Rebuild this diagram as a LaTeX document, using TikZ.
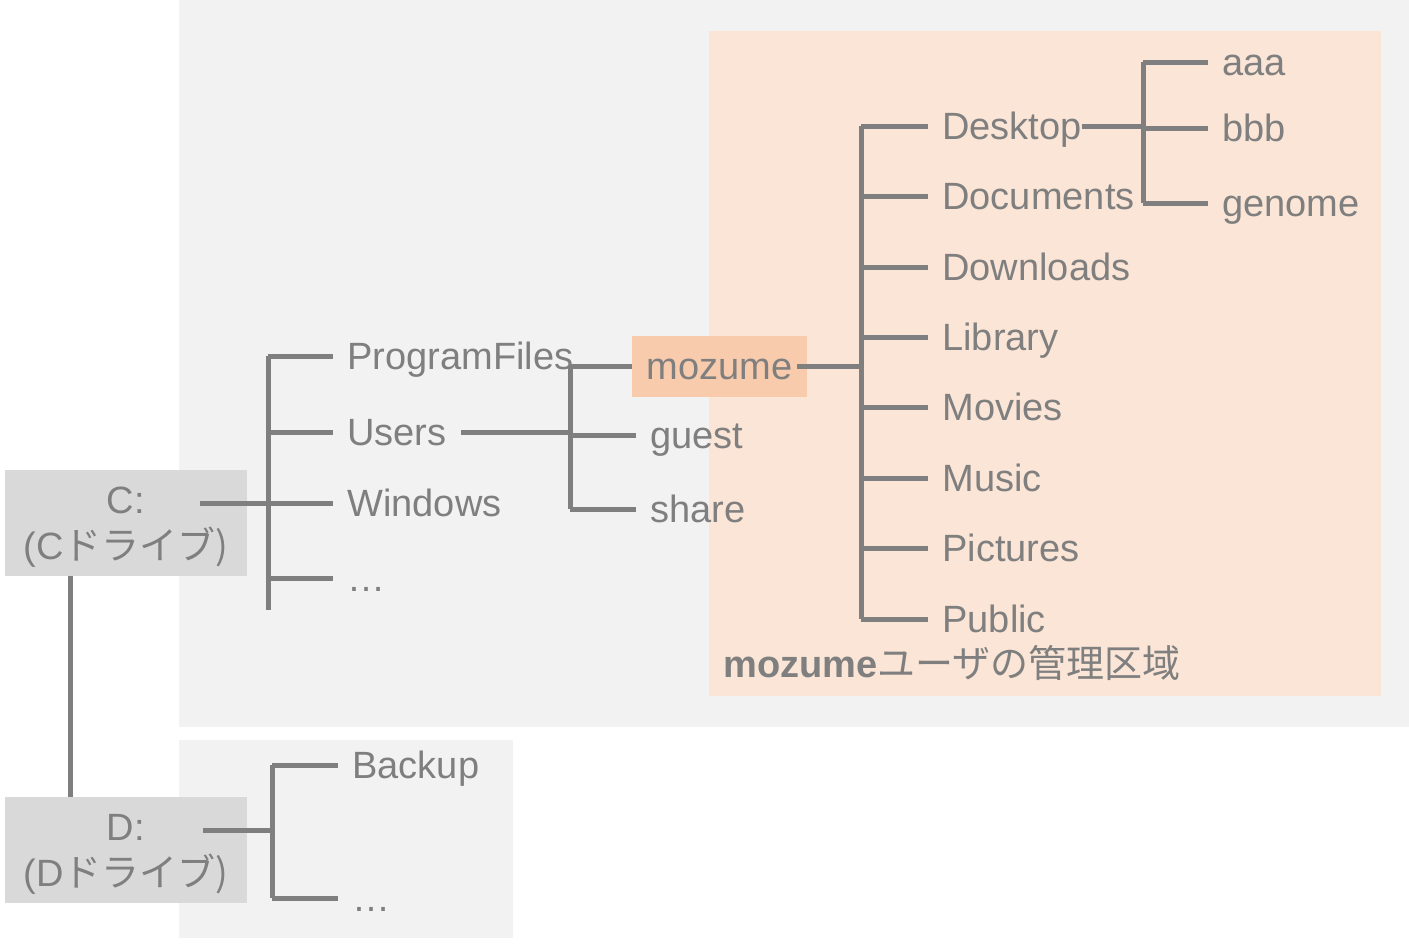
\documentclass[tikz,border=0pt]{standalone}
\usepackage{fontspec}
\setmainfont{Liberation Sans}
\newfontfamily\jp{Noto Sans CJK JP}
\definecolor{bgarea}{HTML}{F2F2F2}
\definecolor{userarea}{HTML}{FBE5D6}
\definecolor{mzfill}{HTML}{F8CBAD}
\definecolor{drivefill}{HTML}{D9D9D9}
\definecolor{tgray}{HTML}{7F7F7F}

\begin{document}
\begin{tikzpicture}[x=0.5pt,y=-0.5pt,
	tree/.style={draw=tgray, line width=2.5pt},
	lbl/.style={anchor=west, inner xsep=7pt, inner ysep=0pt, text=tgray,
		font=\fontsize{19}{22}\selectfont, text height=13.6pt, text depth=0pt},
	drive/.style={fill=drivefill, text=tgray, minimum width=121pt, minimum height=53pt,
		align=center, font=\fontsize{19}{23}\selectfont, inner sep=0pt}]
			%%% Bounding box and areas
			\useasboundingbox (0,0) rectangle (1409,944);
			\fill[bgarea] (179,0) rectangle (1409,727);
			\fill[bgarea] (179,740) rectangle (513,938);
			\fill[userarea] (709,31) rectangle (1381,696);
			%%% Drives
			\node[drive] (cdrv) at (126,523) {\rule{0pt}{17.6pt}C:\\(C\jp{ドライブ})};
			\node[drive] (ddrv) at (126,850) {\rule{0pt}{17.6pt}D:\\(D\jp{ドライブ})};
			\draw[tree] ([xshift=-28pt]cdrv.south) -- ([xshift=-28pt]ddrv.north);
			\coordinate (cout) at (200,503);
			\coordinate (dout) at (203,830);
			%%% C: tree
			\node[lbl] (pf) at (333,356) {ProgramFiles};
			\node[lbl] (users) at (333,432) {Users};
			\node[lbl] (win) at (333,503) {Windows};
			\node[lbl] (cdots) at (333,578) {\ldots};
			\coordinate (ctop) at (268,356);
			\coordinate (cbot) at (268,610);
			\draw[tree] (ctop) -- (cbot);
			\draw[tree] (cout) -- (cout -| ctop);
			\foreach \n in {pf,users,win,cdots}
			\draw[tree] (\n.west -| ctop) -- (\n.west);
			%%% Users
			\node[fill=mzfill, text=tgray, minimum width=87.5pt, minimum height=30.5pt,
				inner sep=0pt, text height=13pt, text depth=0pt,
				font=\fontsize{19}{22}\selectfont] (mz) at (719.5,366.5) {mozume};
			\node[lbl] (guest) at (636,435) {guest};
			\node[lbl] (share) at (636,509) {share};
			\coordinate (utop) at (570,366.5);
			\coordinate (ubot) at (570,509);
			\draw[tree] (utop) -- (ubot);
			\draw[tree] (users.east) -- (users.east -| utop);
			\foreach \n in {mz,guest,share}
			\draw[tree] (\n.west -| utop) -- (\n.west);
			%%% mozume
			\node[lbl] (desk) at (928,126) {Desktop};
			\node[lbl] (docs) at (928,196) {Documents};
			\node[lbl] (down) at (928,267) {Downloads};
			\node[lbl] (lib) at (928,337) {Library};
			\node[lbl] (mov) at (928,407) {Movies};
			\node[lbl] (mus) at (928,478) {Music};
			\node[lbl] (pic) at (928,548) {Pictures};
			\node[lbl] (pub) at (928,619) {Public};
			\coordinate (mtop) at (861,126);
			\coordinate (mbot) at (861,619);
			\draw[tree] (mtop) -- (mbot);
			\draw[tree] ([xshift=-5pt]mz.east) -- (mz.east -| mtop);
			\foreach \n in {desk,docs,down,lib,mov,mus,pic,pub}
			\draw[tree] (\n.west -| mtop) -- (\n.west);
			%%% Desktop
			\node[lbl] (aaa) at (1208,62) {aaa};
			\node[lbl] (bbb) at (1208,128) {bbb};
			\node[lbl] (gen) at (1208,203) {genome};
			\coordinate (ktop) at (1143,62);
			\coordinate (kbot) at (1143,203);
			\draw[tree] (ktop) -- (kbot);
			\draw[tree] ([xshift=-7pt]desk.east) -- (desk.east -| ktop);
			\foreach \n in {aaa,bbb,gen}
			\draw[tree] (\n.west -| ktop) -- (\n.west);
			\node[lbl, inner xsep=0pt] (area) at (723,664) {\textbf{mozume}\jp{ユーザの管理区域}};
			%%% D: tree
			\node[lbl] (backup) at (338,765) {Backup};
			\node[lbl] (ddots) at (338,898) {\ldots};
			\coordinate (dtop) at (272,765);
			\coordinate (dbot) at (272,898);
			\draw[tree] (dtop) -- (dbot);
			\draw[tree] (dout) -- (dout -| dtop);
			\foreach \n in {backup,ddots}
			\draw[tree] (\n.west -| dtop) -- (\n.west);
		\end{tikzpicture}
\end{document}
